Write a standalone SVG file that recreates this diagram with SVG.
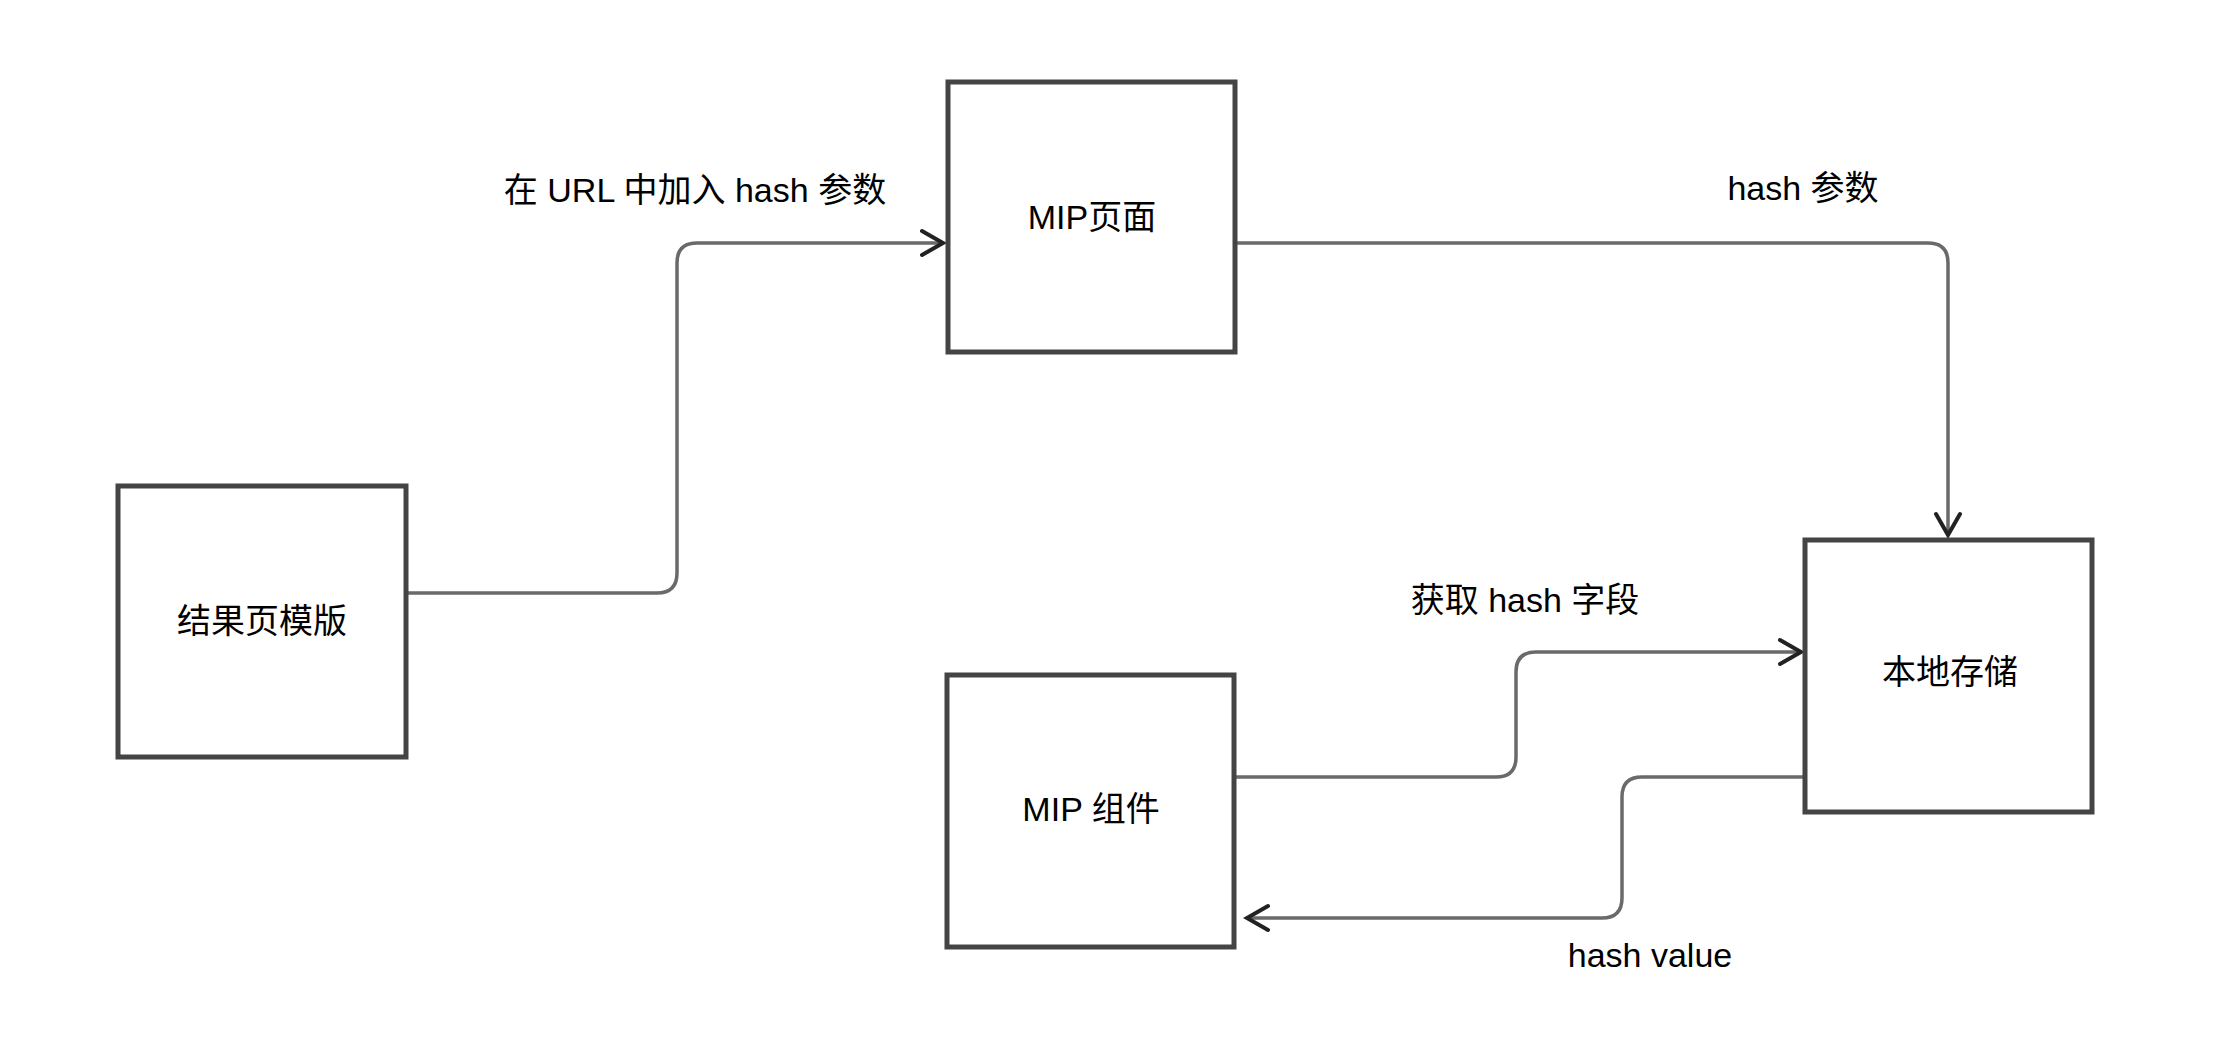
<svg xmlns="http://www.w3.org/2000/svg" width="2226" height="1056" viewBox="0 0 2226 1056">
<defs>
<style>
.box{fill:#fff;stroke:#444;stroke-width:5}
.lbl{font-family:"Liberation Sans","Noto Sans CJK SC",sans-serif;font-size:34px;fill:#000;text-anchor:middle}
.conn{fill:none;stroke:#6a6a6a;stroke-width:3.5}
</style>
<marker id="arr" markerUnits="userSpaceOnUse" viewBox="-26 -16 30 32" markerWidth="30" markerHeight="32" refX="0" refY="0" orient="auto">
<path d="M-21,-12 L0,0 L-21,12" fill="none" stroke="#222" stroke-width="4" stroke-linecap="round" stroke-linejoin="miter"/>
</marker>
</defs>
<rect width="2226" height="1056" fill="#fff"/>
<g id="connectors">
<path class="conn" d="M406,593 H657 Q677,593 677,573 V263 Q677,243 697,243 H943" marker-end="url(#arr)"/>
<path class="conn" d="M1235,243 H1928 Q1948,243 1948,263 V535" marker-end="url(#arr)"/>
<path class="conn" d="M1234,777 H1496 Q1516,777 1516,757 V672 Q1516,652 1536,652 H1801" marker-end="url(#arr)"/>
<path class="conn" d="M1805,777 H1642 Q1622,777 1622,797 V898 Q1622,918 1602,918 H1247" marker-end="url(#arr)"/>
<text class="lbl" x="695" y="202">在 URL 中加入 hash 参数</text>
<text class="lbl" x="1803" y="200">hash 参数</text>
<text class="lbl" x="1525" y="612">获取 hash 字段</text>
<text class="lbl" x="1650" y="967">hash value</text>
</g>
<g id="node-template">
<rect class="box" x="118" y="486" width="288" height="271"/>
<text class="lbl" x="262" y="633">结果页模版</text>
</g>
<g id="node-mip-page">
<rect class="box" x="948" y="82" width="287" height="270"/>
<text class="lbl" x="1092" y="229">MIP页面</text>
</g>
<g id="node-storage">
<rect class="box" x="1805" y="540" width="287" height="272"/>
<text class="lbl" x="1950" y="684">本地存储</text>
</g>
<g id="node-mip-component">
<rect class="box" x="947" y="675" width="287" height="272"/>
<text class="lbl" x="1091" y="821">MIP 组件</text>
</g>
</svg>
